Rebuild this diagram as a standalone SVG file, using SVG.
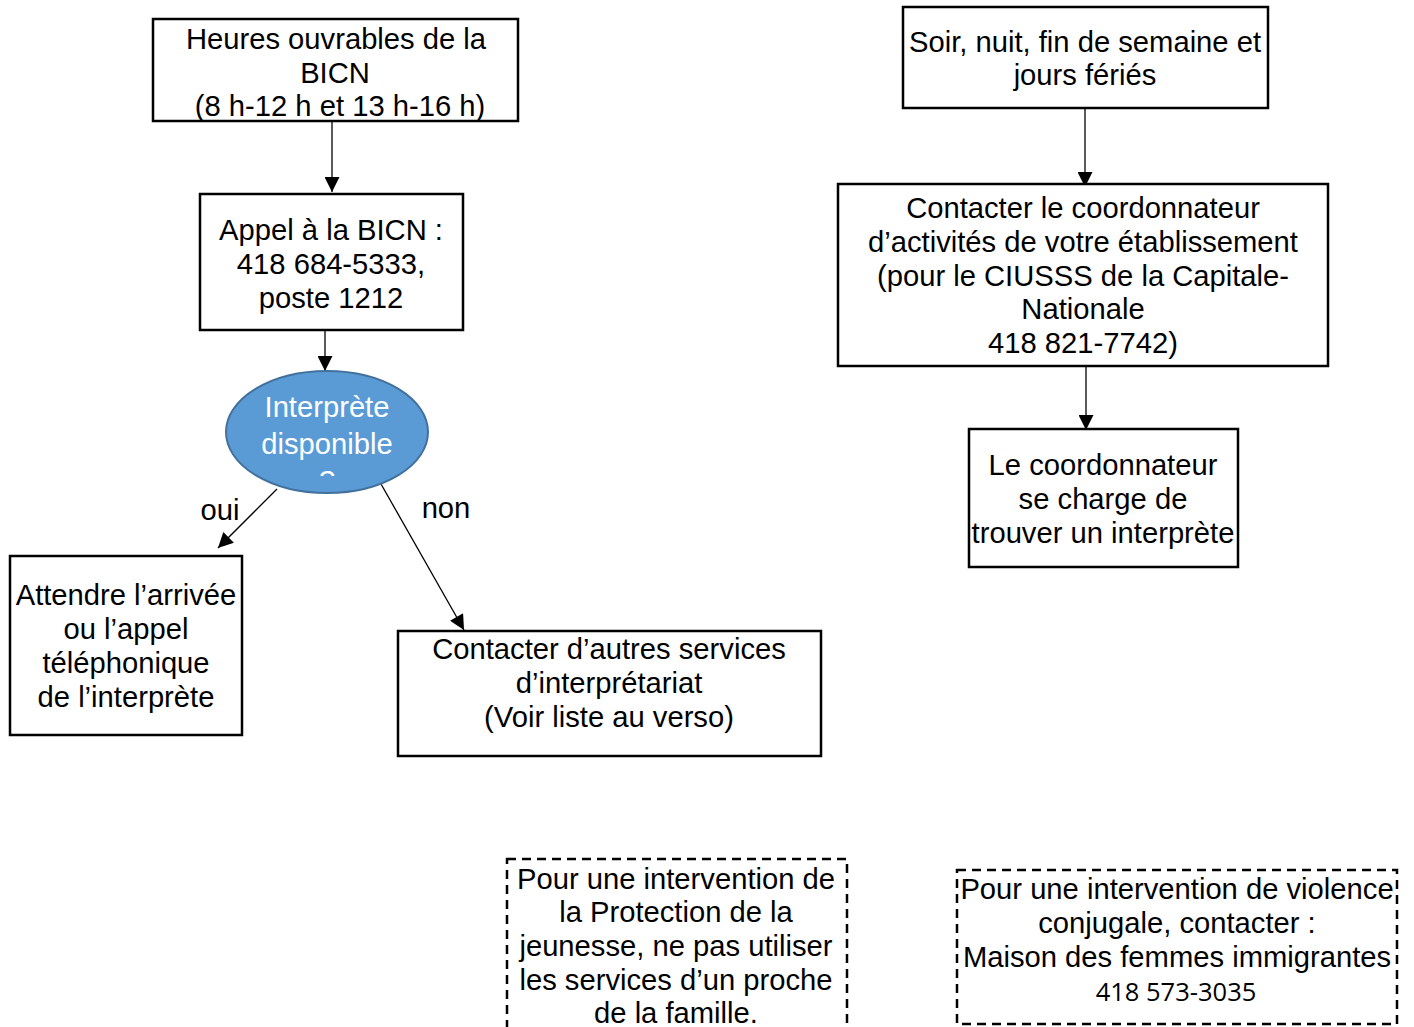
<svg xmlns="http://www.w3.org/2000/svg" width="1414" height="1027" viewBox="0 0 1414 1027">
<style>
.box{fill:#fff;stroke:#000;stroke-width:2.5}
.dash{fill:#fff;stroke:#000;stroke-width:2.5;stroke-dasharray:9 6}
.t{font-family:"Liberation Sans",Arial,sans-serif;font-size:29.2px;fill:#000;text-anchor:middle}
.w{fill:#fff}
.c{stroke:#000;stroke-width:1.3;fill:none;marker-end:url(#ah)}
</style>
<defs>
<marker id="ah" viewBox="0 0 10 10" refX="10" refY="5" markerWidth="16" markerHeight="15" markerUnits="userSpaceOnUse" orient="auto">
<path d="M0,0 L10,5 L0,10 z" fill="#000"/>
</marker>
<clipPath id="ec"><rect x="220" y="370" width="220" height="106"/></clipPath>
</defs>
<rect width="1414" height="1027" fill="#fff"/>
<g id="connectors">
<line class="c" x1="332" y1="121" x2="332" y2="192"/>
<line class="c" x1="325" y1="330" x2="325" y2="371"/>
<line class="c" x1="277" y1="489" x2="218" y2="548"/>
<line class="c" x1="381" y1="484" x2="464" y2="630"/>
<line class="c" x1="1085" y1="108" x2="1085" y2="187"/>
<line class="c" x1="1086" y1="366" x2="1086" y2="430"/>
</g>
<g id="n-heures">
<rect class="box" x="153" y="19" width="365" height="102"/>
<text class="t" x="336" y="49">Heures ouvrables de la</text>
<text class="t" x="335" y="83">BICN</text>
<text class="t" x="340" y="116">(8 h-12 h et 13 h-16 h)</text>
</g>
<g id="n-appel">
<rect class="box" x="200" y="194" width="263" height="136"/>
<text class="t" x="331" y="240">Appel à la BICN :</text>
<text class="t" x="331" y="274">418 684-5333,</text>
<text class="t" x="331" y="308">poste 1212</text>
</g>
<g id="n-interprete">
<ellipse cx="327" cy="432" rx="101" ry="61" fill="#5B9BD5" stroke="#41719C" stroke-width="2"/>
<g clip-path="url(#ec)">
<text class="t w" x="327" y="417">Interprète</text>
<text class="t w" x="327" y="454">disponible</text>
<text class="t w" x="327" y="491">?</text>
</g>
</g>
<g id="labels">
<text class="t" x="220" y="520">oui</text>
<text class="t" x="446" y="518">non</text>
</g>
<g id="n-attendre">
<rect class="box" x="10" y="556" width="232" height="179"/>
<text class="t" x="126" y="605">Attendre l’arrivée</text>
<text class="t" x="126" y="639">ou l’appel</text>
<text class="t" x="126" y="673">téléphonique</text>
<text class="t" x="126" y="707">de l’interprète</text>
</g>
<g id="n-autres">
<rect class="box" x="398" y="631" width="423" height="125"/>
<text class="t" x="609" y="659">Contacter d’autres services</text>
<text class="t" x="609" y="693">d’interprétariat</text>
<text class="t" x="609" y="727">(Voir liste au verso)</text>
</g>
<g id="n-soir">
<rect class="box" x="903" y="7" width="365" height="101"/>
<text class="t" x="1085" y="52">Soir, nuit, fin de semaine et</text>
<text class="t" x="1085" y="85">jours fériés</text>
</g>
<g id="n-coord">
<rect class="box" x="838" y="184" width="490" height="182"/>
<text class="t" x="1083" y="218">Contacter le coordonnateur</text>
<text class="t" x="1083" y="252">d’activités de votre établissement</text>
<text class="t" x="1083" y="286">(pour le CIUSSS de la Capitale-</text>
<text class="t" x="1083" y="319">Nationale</text>
<text class="t" x="1083" y="353">418 821-7742)</text>
</g>
<g id="n-charge">
<rect class="box" x="969" y="429" width="269" height="138"/>
<text class="t" x="1103" y="475">Le coordonnateur</text>
<text class="t" x="1103" y="509">se charge de</text>
<text class="t" x="1103" y="543">trouver un interprète</text>
</g>
<g id="n-protection">
<rect class="dash" x="507" y="859" width="340" height="180"/>
<text class="t" x="676" y="889">Pour une intervention de</text>
<text class="t" x="676" y="922">la Protection de la</text>
<text class="t" x="676" y="956">jeunesse, ne pas utiliser</text>
<text class="t" x="676" y="990">les services d’un proche</text>
<text class="t" x="676" y="1023">de la famille.</text>
</g>
<g id="n-violence">
<rect class="dash" x="957" y="870" width="440" height="154"/>
<text class="t" x="1177" y="899">Pour une intervention de violence</text>
<text class="t" x="1177" y="933">conjugale, contacter :</text>
<text class="t" x="1177" y="967">Maison des femmes immigrantes</text>
<text class="t" x="1176" y="1001" style="font-family:'Open Sans','Noto Sans',sans-serif;font-size:25.5px">418 573-3035</text>
</g>
</svg>
